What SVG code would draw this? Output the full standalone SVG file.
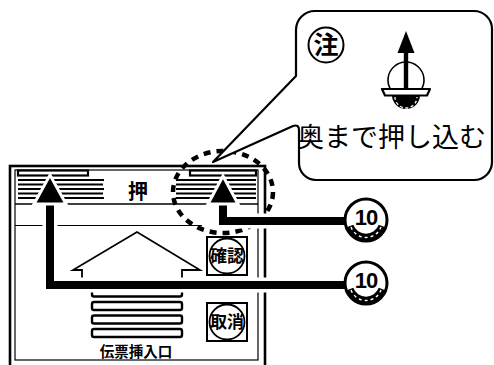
<svg xmlns="http://www.w3.org/2000/svg" xmlns:xlink="http://www.w3.org/1999/xlink" width="494" height="365" viewBox="0 0 494 365">
  <style>
    .ln { fill: none; stroke: #000; }
    .jp { font-family: "Noto Sans CJK JP", "Noto Sans CJK SC", sans-serif; fill: #000; }
    .bold { font-weight: bold; }
    .stripe { stroke: #000; stroke-width: 2.2; }
    .bar { fill: #fff; stroke: #000; stroke-width: 2.4; }
    .halo { fill: none; stroke: #fff; stroke-width: 15; }
    .lead { fill: none; stroke: #000; stroke-width: 8; }
    .head { fill: #000; stroke: #fff; stroke-width: 3; stroke-linejoin: miter; }
    .btn { fill: #fff; stroke: #000; stroke-width: 2; }
  </style>
  <defs>
    <!-- numbered medal badge: ring, "10", wreath band -->
    <g id="medal">
      <circle cx="0" cy="0" r="21" fill="#fff" stroke="#000" stroke-width="3"/>
      <path d="M -16 6 A 17 17 0 0 0 16 6" fill="none" stroke="#000" stroke-width="7"/>
      <path d="M -15 7 A 16 16 0 0 0 15 7" fill="none" stroke="#fff" stroke-width="1.4" stroke-dasharray="3 3"/>
      <text x="0" y="5" text-anchor="middle" font-family="'Liberation Sans Narrow','Liberation Sans',sans-serif" font-weight="bold" font-size="22" letter-spacing="-1">10</text>
    </g>
  </defs>

  <rect width="494" height="365" fill="#fff"/>

  <!-- slip insertion panel -->
  <g id="panel">
    <rect x="10" y="166" width="255" height="210" class="ln" stroke-width="2.6"/>
    <rect x="15" y="170" width="243" height="190" class="ln" stroke-width="1.2"/>
    <!-- slot at the top -->
    <rect x="18" y="170.5" width="70" height="5" class="ln" stroke-width="2.2"/>
    <rect x="190" y="170.5" width="66" height="5" class="ln" stroke-width="2.2"/>
    <!-- striped header -->
    <g>
      <line x1="18" y1="180" x2="104" y2="180" class="stripe"/>
      <line x1="18" y1="184.5" x2="103" y2="184.5" class="stripe"/>
      <line x1="18" y1="189" x2="104" y2="189" class="stripe"/>
      <line x1="18" y1="193.5" x2="103" y2="193.5" class="stripe"/>
      <line x1="18" y1="198" x2="104" y2="198" class="stripe"/>
      <line x1="176" y1="180" x2="256" y2="180" class="stripe"/>
      <line x1="176" y1="184.5" x2="256" y2="184.5" class="stripe"/>
      <line x1="176" y1="189" x2="256" y2="189" class="stripe"/>
      <line x1="176" y1="193.5" x2="256" y2="193.5" class="stripe"/>
      <line x1="176" y1="198" x2="256" y2="198" class="stripe"/>
    </g>
    <line x1="15" y1="204" x2="258" y2="204" class="ln" stroke-width="1.6"/>
    <text x="138" y="199" text-anchor="middle" class="jp bold" font-size="20">押</text>
    <line x1="15" y1="225.5" x2="202" y2="225.5" class="ln" stroke-width="1.2"/>
    <!-- large outlined arrow -->
    <path d="M 82 280 V 270 H 73 L 137 232 L 200 270 H 182 V 280" class="ln" stroke-width="1.8" stroke-linejoin="miter"/>
    <!-- stacked slips -->
    <rect x="92" y="288" width="90" height="8.5" rx="2" class="bar"/>
    <rect x="92" y="302" width="90" height="8" rx="2" class="bar"/>
    <rect x="92" y="315.5" width="90" height="8" rx="2" class="bar"/>
    <rect x="92" y="329" width="90" height="8" rx="2" class="bar"/>
    <text x="136" y="357" text-anchor="middle" class="jp bold" font-size="14.5">伝票挿入口</text>
  </g>

  <g id="btn-confirm">
    <rect x="207" y="237" width="40" height="38" class="btn"/>
    <circle cx="227" cy="256" r="17.5" class="ln" stroke-width="1.8"/>
    <text x="227" y="262" text-anchor="middle" class="jp bold" font-size="17">確認</text>
  </g>

  <g id="btn-cancel">
    <rect x="207" y="303" width="40" height="38" class="btn"/>
    <circle cx="227" cy="322" r="17.5" class="ln" stroke-width="1.8"/>
    <text x="227" y="328" text-anchor="middle" class="jp bold" font-size="17">取消</text>
  </g>

  <!-- dashed highlight around the slot end -->
  <g id="highlight">
    <ellipse cx="223" cy="192" rx="50" ry="41" fill="none" stroke="#000" stroke-width="4.5" stroke-dasharray="7 6"/>
  </g>

  <!-- callout with the note -->
  <g id="callout">
    <path d="M 296 76 V 30 A 19 19 0 0 1 315 11 H 474 A 18 18 0 0 1 492 29 V 162 A 18 18 0 0 1 474 180 H 316 A 17 17 0 0 1 299 163 V 130 Q 299 124 293 126 L 213 162 L 296 76 Z" fill="#fff" stroke="#000" stroke-width="2.2" stroke-linejoin="round"/>
    <circle cx="326" cy="45" r="17.5" fill="#fff" stroke="#000" stroke-width="2"/>
    <text x="326" y="54" text-anchor="middle" class="jp bold" font-size="25">注</text>
    <!-- push-in icon -->
    <path d="M 391 90 A 18 18 0 1 1 421 90" class="ln" stroke-width="1.6"/>
    <rect x="403.8" y="48" width="4.4" height="42" fill="#000"/>
    <polygon points="406,31 397.5,53 414.5,53" fill="#000"/>
    <path d="M 382 89 H 430 L 427 95.5 H 385 Z" fill="#fff" stroke="#000" stroke-width="2.2" stroke-linejoin="round"/>
    <path d="M 392 95 A 14 14 0 0 0 420 95 Z" fill="#000"/>
    <path d="M 395 97 A 11 11 0 0 0 417 97" fill="none" stroke="#fff" stroke-width="1.3" stroke-dasharray="3 2.5"/>
    <text x="297" y="147" class="jp" font-size="27">奥まで押し込む</text>
  </g>

  <!-- leader arrows from the badges -->
  <g id="connectors">
    <path d="M 347 221 H 223 V 205" class="halo"/>
    <path d="M 347 285 H 50 V 205" class="halo"/>
    <path d="M 347 221 H 223 V 200" class="lead"/>
    <path d="M 347 285 H 50 V 200" class="lead"/>
    <polygon points="208,204 223,176 238,204" class="head"/>
    <polygon points="34,204 50,175 66,204" class="head"/>
  </g>

  <g id="badge-1">
    <use xlink:href="#medal" x="366" y="220"/>
  </g>
  <g id="badge-2">
    <use xlink:href="#medal" x="366" y="283"/>
  </g>
</svg>
